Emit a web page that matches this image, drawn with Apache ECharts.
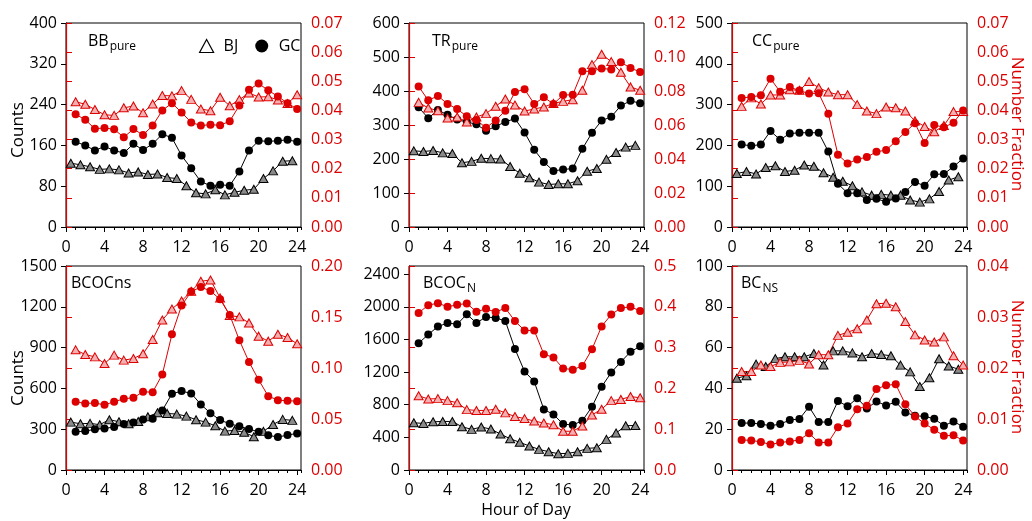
<!DOCTYPE html>
<html>
<head>
<meta charset="utf-8">
<script src="https://cdn.jsdelivr.net/npm/echarts@6/dist/echarts.min.js"></script>
<style>
  html, body { margin: 0; background: #fff; }
  #chart { width: 1032px; height: 521px; }
</style>
</head>
<body>
<div id="chart"></div>
<script>
// hour of day: GC and fraction series sit on the hour, BJ counts on the half hour
var hours = [1, 2, 3, 4, 5, 6, 7, 8, 9, 10, 11, 12, 13, 14, 15, 16, 17, 18, 19, 20, 21, 22, 23, 24];
var hoursHalf = [0.5, 1.5, 2.5, 3.5, 4.5, 5.5, 6.5, 7.5, 8.5, 9.5, 10.5, 11.5, 12.5, 13.5, 14.5, 15.5, 16.5, 17.5, 18.5, 19.5, 20.5, 21.5, 22.5, 23.5];

// BB pure
var bbBjCounts = [125, 122, 118, 113, 114, 112, 106, 108, 103, 104, 97, 95, 81, 67, 65, 73, 63, 68, 72, 74, 95, 110, 129, 130];
var bbGcCounts = [167, 160, 150, 158, 150, 145, 163, 151, 163, 182, 175, 140, 115, 89, 81, 83, 81, 109, 150, 169, 168, 169, 171, 167];
var bbBjFrac = [0.0430, 0.0421, 0.0403, 0.0385, 0.0383, 0.0409, 0.0415, 0.0392, 0.0422, 0.0451, 0.0450, 0.0468, 0.0438, 0.0405, 0.0399, 0.0445, 0.0416, 0.0437, 0.0460, 0.0446, 0.0447, 0.0436, 0.0424, 0.0454];
var bbGcFrac = [0.0387, 0.0368, 0.0337, 0.0340, 0.0335, 0.0308, 0.0336, 0.0316, 0.0348, 0.0400, 0.0425, 0.0393, 0.0359, 0.0348, 0.0351, 0.0349, 0.0363, 0.0417, 0.0471, 0.0492, 0.0469, 0.0448, 0.0425, 0.0405];

// TR pure
var trBjCounts = [224, 222, 225, 218, 216, 189, 193, 202, 201, 200, 178, 158, 145, 132, 125, 127, 127, 136, 164, 172, 199, 219, 235, 240];
var trGcCounts = [352, 320, 344, 330, 316, 309, 302, 283, 296, 309, 319, 278, 227, 191, 165, 169, 172, 230, 277, 313, 324, 357, 371, 364];
var trBjFrac = [0.0733, 0.0700, 0.0684, 0.0641, 0.0647, 0.0618, 0.0647, 0.0667, 0.0710, 0.0753, 0.0718, 0.0682, 0.0694, 0.0706, 0.0727, 0.0739, 0.0749, 0.0804, 0.0955, 0.1016, 0.0973, 0.0910, 0.0824, 0.0804];
var trGcFrac = [0.0827, 0.0745, 0.0771, 0.0724, 0.0694, 0.0651, 0.0629, 0.0584, 0.0627, 0.0684, 0.0794, 0.0810, 0.0724, 0.0763, 0.0724, 0.0776, 0.0778, 0.0916, 0.0916, 0.0933, 0.0927, 0.0969, 0.0935, 0.0912];

// CC pure
var ccBjCounts = [131, 136, 130, 146, 150, 136, 139, 152, 149, 133, 122, 112, 101, 86, 78, 80, 78, 78, 66, 61, 69, 87, 115, 123];
var ccGcCounts = [202, 199, 202, 235, 214, 229, 231, 231, 231, 185, 106, 83, 83, 66, 69, 62, 70, 86, 110, 101, 129, 130, 148, 168];
var ccBjFrac = [0.0414, 0.0443, 0.0422, 0.0453, 0.0453, 0.0471, 0.0469, 0.0499, 0.0478, 0.0463, 0.0454, 0.0454, 0.0420, 0.0398, 0.0389, 0.0412, 0.0409, 0.0398, 0.0364, 0.0345, 0.0327, 0.0348, 0.0396, 0.0396];
var ccGcFrac = [0.0443, 0.0446, 0.0452, 0.0509, 0.0464, 0.0480, 0.0468, 0.0458, 0.0459, 0.0389, 0.0248, 0.0218, 0.0232, 0.0240, 0.0258, 0.0264, 0.0294, 0.0326, 0.0356, 0.0288, 0.0350, 0.0342, 0.0358, 0.0400];

// BCOCns
var nsBjCounts = [352, 340, 343, 333, 370, 355, 340, 357, 392, 421, 416, 411, 396, 370, 352, 325, 286, 291, 277, 245, 284, 335, 372, 365];
var nsGcCounts = [281, 286, 299, 306, 316, 338, 350, 372, 377, 438, 560, 580, 563, 482, 418, 367, 340, 321, 301, 281, 255, 242, 257, 269];
var nsBjFrac = [0.1178, 0.1132, 0.1109, 0.1044, 0.1126, 0.1077, 0.1093, 0.1139, 0.1279, 0.1471, 0.1579, 0.1657, 0.1752, 0.1850, 0.1863, 0.1687, 0.1514, 0.1501, 0.1442, 0.1312, 0.1263, 0.1331, 0.1299, 0.1237];
var nsGcFrac = [0.0669, 0.0653, 0.0656, 0.0639, 0.0669, 0.0698, 0.0708, 0.0767, 0.0763, 0.0936, 0.1331, 0.1612, 0.1749, 0.1794, 0.1755, 0.1674, 0.1520, 0.1272, 0.1060, 0.0884, 0.0724, 0.0685, 0.0679, 0.0675];

// BCOC N
var nBjCounts = [579, 571, 591, 595, 595, 530, 498, 526, 502, 440, 383, 339, 294, 253, 224, 200, 204, 224, 265, 273, 375, 453, 542, 546];
var nGcCounts = [1554, 1660, 1758, 1802, 1786, 1908, 1802, 1876, 1864, 1827, 1484, 1207, 1085, 742, 681, 563, 551, 604, 775, 1020, 1195, 1325, 1448, 1517];
var nBjFrac = [0.182, 0.174, 0.175, 0.170, 0.165, 0.148, 0.146, 0.146, 0.149, 0.140, 0.131, 0.126, 0.120, 0.115, 0.111, 0.095, 0.095, 0.108, 0.135, 0.149, 0.170, 0.173, 0.180, 0.177];
var nGcFrac = [0.385, 0.404, 0.409, 0.400, 0.405, 0.408, 0.388, 0.395, 0.387, 0.397, 0.365, 0.342, 0.342, 0.284, 0.276, 0.249, 0.246, 0.255, 0.296, 0.352, 0.381, 0.397, 0.400, 0.390];

// BC NS
var bcBjCounts = [45.0, 46.2, 51.9, 50.7, 54.6, 55.5, 55.5, 55.5, 57.1, 51.5, 58.4, 58.4, 57.4, 55.5, 57.1, 56.6, 56.0, 51.4, 48.1, 40.9, 45.2, 54.5, 51.0, 49.4];
var bcGcCounts = [23.0, 23.0, 22.5, 21.7, 22.5, 24.5, 25.0, 31.0, 23.5, 23.5, 33.8, 31.2, 35.2, 30.2, 33.6, 31.6, 33.4, 28.2, 26.6, 26.3, 25.1, 21.7, 23.8, 21.2];
var bcBjFrac = [0.0193, 0.0193, 0.0206, 0.0203, 0.0211, 0.0212, 0.0215, 0.0208, 0.0226, 0.0226, 0.0264, 0.0270, 0.0277, 0.0294, 0.0326, 0.0327, 0.0320, 0.0291, 0.0265, 0.0255, 0.0251, 0.0261, 0.0224, 0.0206];
var bcGcFrac = [0.0059, 0.0058, 0.0055, 0.0050, 0.0054, 0.0056, 0.0059, 0.0072, 0.0054, 0.0054, 0.0084, 0.0091, 0.0119, 0.0126, 0.0159, 0.0166, 0.0168, 0.0129, 0.0105, 0.0091, 0.0079, 0.0067, 0.0068, 0.0058];

var hourTicks = [0, 4, 8, 12, 16, 20, 24];

(function () {
  var red = '#dd0000';
  var ink = '#000';
  var font = '"Open Sans", sans-serif';

  function pairs(xs, ys) {
    return xs.map(function (x, i) { return [x, ys[i]]; });
  }

  var panels = [
    { left: 66, top: 23, cMax: 400, cStep: 80, fMax: 0.07, fStep: 0.01, dig: 2, d: [bbBjCounts, bbGcCounts, bbBjFrac, bbGcFrac] },
    { left: 409, top: 23, cMax: 600, cStep: 100, fMax: 0.12, fStep: 0.02, dig: 2, d: [trBjCounts, trGcCounts, trBjFrac, trGcFrac] },
    { left: 732, top: 23, cMax: 500, cStep: 100, fMax: 0.07, fStep: 0.01, dig: 2, d: [ccBjCounts, ccGcCounts, ccBjFrac, ccGcFrac] },
    { left: 66, top: 266, cMax: 1500, cStep: 300, fMax: 0.20, fStep: 0.05, dig: 2, d: [nsBjCounts, nsGcCounts, nsBjFrac, nsGcFrac] },
    { left: 409, top: 266, cMax: 2500, cStep: 400, fMax: 0.5, fStep: 0.1, dig: 1, d: [nBjCounts, nGcCounts, nBjFrac, nGcFrac] },
    { left: 732, top: 266, cMax: 100, cStep: 20, fMax: 0.04, fStep: 0.01, dig: 2, d: [bcBjCounts, bcGcCounts, bcBjFrac, bcGcFrac] }
  ];

  var grid = [], xAxis = [], yAxis = [], series = [];

  panels.forEach(function (p, i) {
    grid.push({
      left: p.left, top: p.top, width: 235, height: 204,
      show: true, borderColor: ink, borderWidth: 1, backgroundColor: 'transparent'
    });
    xAxis.push({
      gridIndex: i, type: 'value', position: 'bottom', min: 0, max: 24.4, interval: 4,
      axisLine: { show: true, lineStyle: { color: ink, width: 1 } },
      axisTick: { show: true, length: 5, lineStyle: { color: ink } },
      axisLabel: {
        color: ink, fontSize: 16, fontFamily: font, margin: 12, showMaxLabel: false,
        formatter: function (v) { return hourTicks.indexOf(v) >= 0 ? String(v) : ''; }
      },
      splitLine: { show: false }
    });
    xAxis.push({
      gridIndex: i, type: 'value', position: 'bottom', min: 0, max: 24.4, interval: 1,
      axisLine: { show: false },
      axisTick: { show: true, length: 3, lineStyle: { color: ink } },
      axisLabel: { show: false },
      splitLine: { show: false }
    });
    yAxis.push({
      gridIndex: i, type: 'value', position: 'left', min: 0, max: p.cMax, interval: p.cStep,
      axisLine: { show: true, lineStyle: { color: ink, width: 1 } },
      axisTick: { show: true, length: 5, lineStyle: { color: ink } },
      axisLabel: {
        color: ink, fontSize: 16, fontFamily: font, margin: 9, showMaxLabel: p.cMax % p.cStep === 0,
        formatter: function (v) { return String(v); }
      },
      splitLine: { show: false }
    });
    yAxis.push({
      gridIndex: i, type: 'value', position: 'right', min: 0, max: p.fMax, interval: p.fStep,
      axisLine: { show: true, lineStyle: { color: red, width: 1.2 } },
      axisTick: { show: true, length: 6, lineStyle: { color: red } },
      axisLabel: {
        color: red, fontSize: 16, fontFamily: font, margin: 10,
        formatter: function (v) { return v.toFixed(p.dig); }
      },
      splitLine: { show: false }
    });

    var base = { type: 'line', xAxisIndex: 2 * i, showAllSymbol: true, animation: false, z: 3 };
    series.push(Object.assign({}, base, {
      name: 'BJ', yAxisIndex: 2 * i, data: pairs(hoursHalf, p.d[0]),
      symbol: 'triangle', symbolSize: [9, 8],
      itemStyle: { color: '#8a8a8a', borderColor: ink, borderWidth: 1 },
      lineStyle: { color: ink, width: 1 }
    }));
    series.push(Object.assign({}, base, {
      name: 'GC', yAxisIndex: 2 * i, data: pairs(hours, p.d[1]),
      symbol: 'circle', symbolSize: 8,
      itemStyle: { color: ink, borderWidth: 0 },
      lineStyle: { color: ink, width: 1 }
    }));
    series.push(Object.assign({}, base, {
      name: 'BJ fraction', yAxisIndex: 2 * i + 1, data: pairs(hours, p.d[2]),
      symbol: 'triangle', symbolSize: [9, 8],
      itemStyle: { color: '#f4b0b0', borderColor: red, borderWidth: 1 },
      lineStyle: { color: red, width: 1 }
    }));
    series.push(Object.assign({}, base, {
      name: 'GC fraction', yAxisIndex: 2 * i + 1, data: pairs(hours, p.d[3]),
      symbol: 'circle', symbolSize: 8,
      itemStyle: { color: red, borderWidth: 0 },
      lineStyle: { color: red, width: 1 }
    }));
  });

  function title(x, y, main, sub) {
    return {
      type: 'text', x: x, y: y, z: 10,
      style: {
        text: sub ? '{m|' + main + '}{s|' + sub + '}' : '{m|' + main + '}',
        verticalAlign: 'middle',
        rich: {
          m: { fontSize: 16, fontFamily: font, fill: ink, lineHeight: 16, verticalAlign: 'top' },
          s: { fontSize: 12, fontFamily: font, fill: ink, lineHeight: 12, padding: [8, 0, 0, 1], verticalAlign: 'top' }
        }
      }
    };
  }
  function vtext(x, y, txt, color, rot) {
    return {
      type: 'text', x: x, y: y, rotation: rot, z: 10,
      style: { text: txt, fontSize: 17, fontFamily: font, fill: color, align: 'center', verticalAlign: 'middle' }
    };
  }

  var chart = echarts.init(document.getElementById('chart'), null, { renderer: 'canvas' });
  chart.setOption({
    animation: false,
    backgroundColor: '#fff',
    textStyle: { fontSize: 16, fontFamily: font },
    grid: grid,
    xAxis: xAxis,
    yAxis: yAxis,
    series: series,
    legend: {
      left: 194, top: 33, itemWidth: 14, itemHeight: 13, itemGap: 17, selectedMode: false,
      textStyle: { fontSize: 16, fontFamily: font, color: ink, padding: [0, 0, 0, 5] },
      data: [
        { name: 'BJ', icon: 'triangle', itemStyle: { color: '#fff', borderColor: ink, borderWidth: 1.2 } },
        { name: 'GC', icon: 'circle', itemStyle: { color: ink, borderWidth: 0 } }
      ]
    },
    graphic: [
      title(88, 41, 'BB', 'pure'),
      title(432, 41, 'TR', 'pure'),
      title(752, 41, 'CC', 'pure'),
      title(71, 283, 'BCOCns', ''),
      title(423, 283, 'BCOC', 'N'),
      title(741, 283, 'BC', 'NS'),
      vtext(18, 130, 'Counts', ink, Math.PI / 2),
      vtext(18, 378, 'Counts', ink, Math.PI / 2),
      vtext(1017, 124, 'Number Fraction', red, -Math.PI / 2),
      vtext(1017, 367, 'Number Fraction', red, -Math.PI / 2),
      {
        type: 'text', x: 526, y: 510, z: 10,
        style: { text: 'Hour of Day', fontSize: 16, fontFamily: font, fill: ink, align: 'center', verticalAlign: 'middle' }
      }
    ]
  });

  window.addEventListener('resize', function () { chart.resize(); });
})();
</script>
</body>
</html>
